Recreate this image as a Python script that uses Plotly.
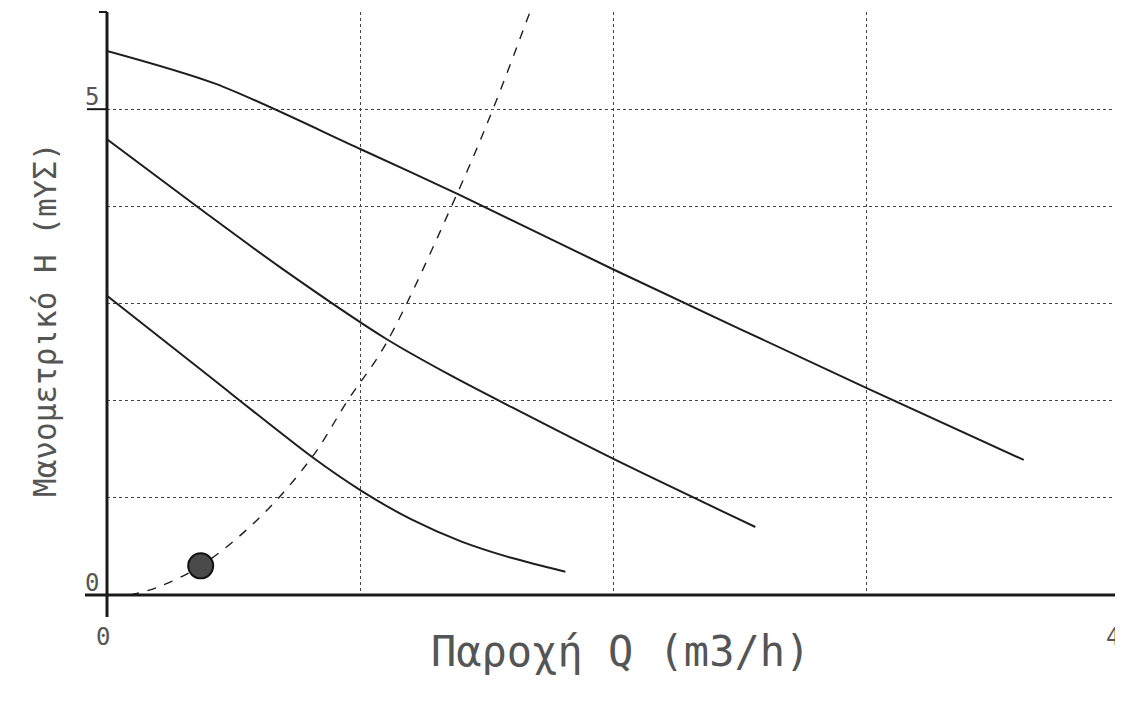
import plotly.graph_objects as go

# Pump curves (flow Q in m3/h, head H in mWC)
q_high = [0.0, 0.43, 1.0, 1.39, 2.0, 3.0, 3.62]
h_high = [5.60, 5.26, 4.59, 4.12, 3.35, 2.13, 1.39]

q_mid = [0.0, 0.37, 0.68, 1.10, 1.35, 1.60, 2.0, 2.56]
h_mid = [4.69, 3.97, 3.38, 2.64, 2.27, 1.93, 1.40, 0.70]

q_low = [0.0, 0.37, 0.81, 1.0, 1.2, 1.4, 1.6, 1.81]
h_low = [3.08, 2.32, 1.42, 1.08, 0.78, 0.55, 0.38, 0.24]

# System curve
q_sys = [0.09, 0.20, 0.37, 0.60, 0.81, 0.95, 1.10, 1.386, 1.524, 1.67]
h_sys = [0.0, 0.08, 0.30, 0.79, 1.42, 2.0, 2.58, 4.15, 5.0, 6.0]

# Operating point
q_op = [0.37]
h_op = [0.30]

x_grid = [1, 2, 3]
y_grid = [1, 2, 3, 4, 5, 6]
x_tick_vals = [0, 4]
x_tick_text = ["0", "4"]
y_tick_vals = [0, 5]
y_tick_text = ["0", "5"]

line_col = "#1e1e1e"
fig = go.Figure()
for qq, hh in [(q_high, h_high), (q_mid, h_mid), (q_low, h_low)]:
    fig.add_trace(go.Scatter(x=qq, y=hh, mode="lines", line=dict(color=line_col, width=2, shape="spline", smoothing=0.8),
                             showlegend=False, hoverinfo="skip"))
fig.add_trace(go.Scatter(x=q_sys, y=h_sys, mode="lines",
                         line=dict(color=line_col, width=1.4, dash="dash", shape="spline"),
                         showlegend=False, hoverinfo="skip"))
fig.add_trace(go.Scatter(x=q_op, y=h_op, mode="markers",
                         marker=dict(size=25, color="#4a4a4a", line=dict(color="#111", width=2)),
                         showlegend=False, hoverinfo="skip"))

# page body has an 8px margin: shrink the figure so the plot lands where the reference has it
OFF = 8
W, H = 1123 - OFF, 702 - OFF
L, R, T, B = 107 - OFF, 3, 12 - OFF, 107
pw, ph = W - L - R, H - T - B

def px(dx):
    return dx / pw

def py(dy):
    return dy / ph

ax_col = "#1a1a1a"
shapes = [
    dict(type="line", xref="paper", yref="paper", x0=px(-22), x1=1.0, y0=0, y1=0, line=dict(color=ax_col, width=3)),
    dict(type="line", xref="paper", yref="paper", x0=0, x1=0, y0=py(-22), y1=1.0, line=dict(color=ax_col, width=3)),
    dict(type="line", xref="paper", yref="paper", x0=px(-20), x1=0, y0=5/6, y1=5/6, line=dict(color=ax_col, width=2)),
    dict(type="line", xref="paper", yref="paper", x0=px(-8), x1=0, y0=1.0, y1=1.0, line=dict(color=ax_col, width=2)),
    dict(type="line", xref="paper", yref="paper", x0=1.0, x1=1.0, y0=0, y1=py(-15), line=dict(color=ax_col, width=1.5)),
]

tick_font = dict(family="DejaVu Sans Mono", size=24, color="#555")
annotations = []
for v, t in zip(y_tick_vals, y_tick_text):
    annotations.append(dict(x=0, y=v, xref="x", yref="y", text=t, showarrow=False, xanchor="right",
                            yanchor="middle", xshift=-6, yshift=12, font=tick_font))
for v, t in zip(x_tick_vals, x_tick_text):
    last = v == x_tick_vals[-1]
    annotations.append(dict(x=v, y=0, xref="x", yref="y", text=t, showarrow=False,
                            xanchor="right" if last else "center",
                            yanchor="middle", xshift=2 if last else -4, yshift=-42, font=tick_font))
title_x = dict(x=620, y=678, text="Παροχή Q (m3/h)", showarrow=False,
               font=dict(family="DejaVu Sans Mono", size=42, color="#555"))
title_y = dict(x=25, y=320, text="Μανομετρικό H (mYΣ)", showarrow=False,
               textangle=-90, font=dict(family="DejaVu Sans Mono", size=31, color="#555"))
for a in (title_x, title_y):
    a["xref"] = "paper"
    a["yref"] = "paper"
    a["x"] = (a["x"] - 107) / pw
    a["y"] = (595 - a["y"]) / ph
    annotations.append(a)

fig.update_layout(
    width=W, height=H,
    margin=dict(l=L, r=R, t=T, b=B),
    paper_bgcolor="white", plot_bgcolor="white",
    shapes=shapes, annotations=annotations,
    xaxis=dict(range=[0, 4], tickmode="array", tickvals=x_grid, showticklabels=False, ticks="",
               showgrid=True, gridcolor="#444", gridwidth=1.4, griddash="dot", zeroline=False, showline=False),
    yaxis=dict(range=[0, 6], tickmode="array", tickvals=y_grid, showticklabels=False, ticks="",
               showgrid=True, gridcolor="#444", gridwidth=1.4, griddash="dot", zeroline=False, showline=False),
)
fig.write_html("out.html")
